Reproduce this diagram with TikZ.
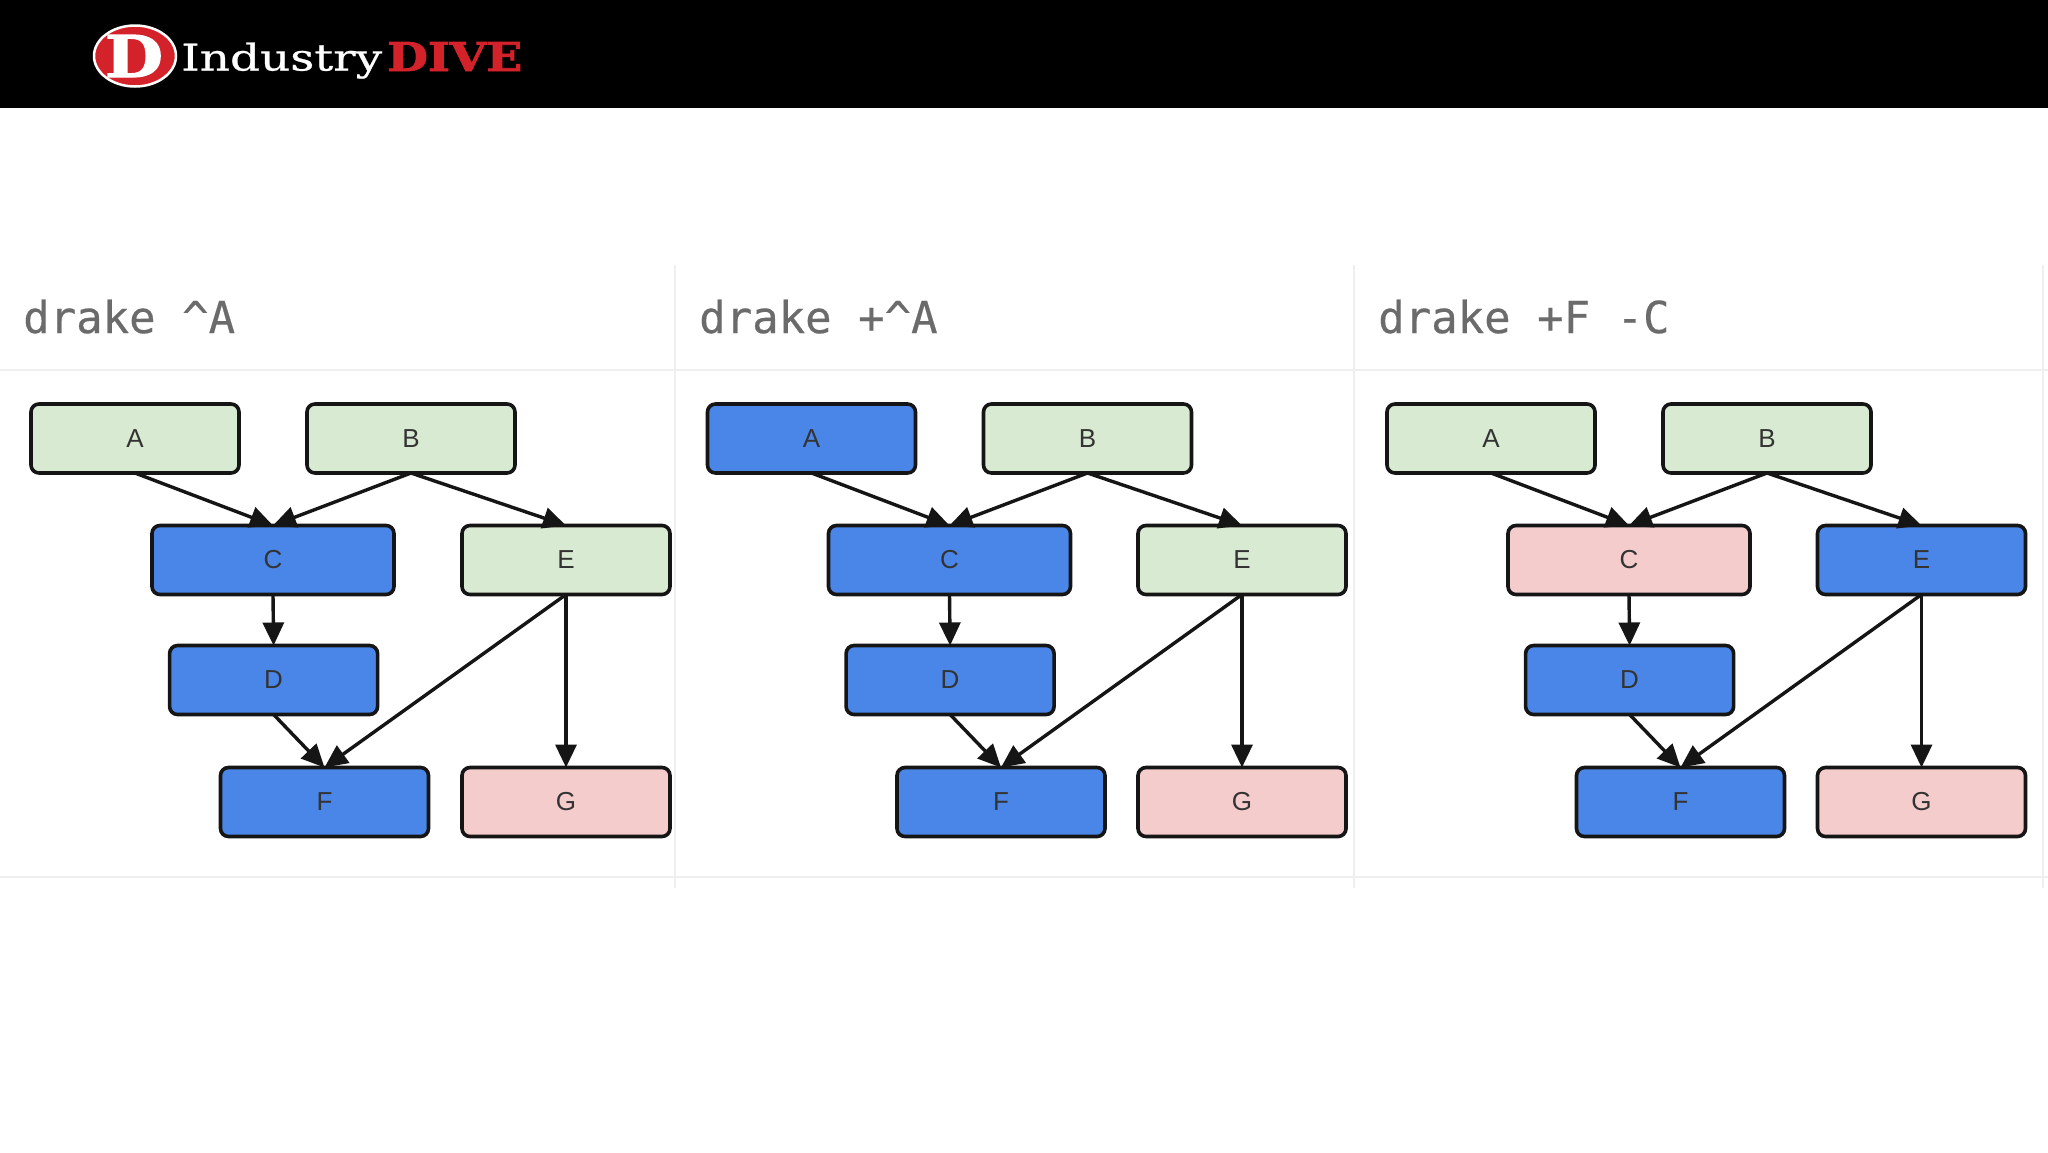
\documentclass[tikz,border=0pt]{standalone}
\usepackage{fontspec}
\setmainfont{Liberation Sans}
\newfontfamily\slabfont[FakeBold=0.6]{DejaVu Serif}
\newfontfamily\slabheavy[FakeBold=2]{DejaVu Serif Bold}
\newfontfamily\codefont[FakeBold=0.4]{DejaVu Sans Mono}
\usetikzlibrary{arrows.meta,shapes.geometric}
\definecolor{gfill}{HTML}{D9EAD3}
\definecolor{bfill}{HTML}{4A86E8}
\definecolor{pfill}{HTML}{F4CCCC}
\definecolor{rule}{HTML}{EFEFEF}
\definecolor{inkc}{HTML}{151515}
\definecolor{dive}{HTML}{D4222A}
\tikzset{
  box/.style={draw=inkc,line width=3.6pt,rounded corners=8pt,minimum height=69pt,inner sep=0pt,outer sep=0pt,
    font=\fontsize{26}{26}\selectfont,text=black!80},
  wide/.style={box,minimum width=208pt},
  wider/.style={box,minimum width=242pt},
  link/.style={draw=inkc,line width=3.4pt,-{Triangle[length=23pt,width=21pt]}},
  grid/.style={draw=rule,line width=2.4pt},
  title/.style={anchor=base west,inner sep=0pt,text=black!58,font=\codefont\fontsize{44}{44}\selectfont},
}
% prefix, shift of left group, shift of right group, colours A B C D E F G
\newcommand{\dagpanel}[9]{%
  \node[wide,fill=#4] (#1A) at (#2+135,438.5) {A};
  \node[wide,fill=#5] (#1B) at (#2+411,438.5) {B};
  \node[wider,fill=#6] (#1C) at (#2+273,560) {C};
  \node[wide,fill=#7] (#1D) at (#2+273.6,680) {D};
  \node[wide,fill=#8] (#1E) at (#3+566,560) {E};
  \node[wide,fill=#9] (#1F) at (#2+324.5,802) {F};
  \node[wide,fill=pfill] (#1G) at (#3+566,802) {G};
  \draw[link] (#1A.south) -- (#1C.north);
  \draw[link] (#1B.south) -- (#1C.north);
  \draw[link] (#1B.south) -- (#1E.north);
  \draw[link] (#1C.south) -- (#1D.north);
  \draw[link] (#1D.south) -- (#1F.north);
  \draw[link] (#1E.south) -- (#1F.north);
  \draw[link] (#1E.south) -- (#1G.north);
}
\begin{document}
\begin{tikzpicture}[x=1pt,y=-1pt]
\useasboundingbox (0,0) rectangle (2048,1152);
\fill[white] (0,0) rectangle (2048,1152);
\fill[black] (0,0) rectangle (2048,108);
% logo
\node[ellipse,draw=white,fill=dive,line width=2.5pt,minimum width=82pt,minimum height=61pt,inner sep=0pt] (logo) at (135,56) {};
\node[inner sep=0pt,text=white,anchor=center] (logoD) at (134,56) {\resizebox{58pt}{42pt}{\slabheavy D}};
\node[inner sep=0pt,text=white,anchor=base west] (ind) at (181,70.5) {\resizebox{201pt}{28pt}{\slabfont Industry}};
\node[inner sep=0pt,text=dive,anchor=base west] (dv) at (387,71) {\resizebox{135pt}{29pt}{\slabheavy DIVE}};
% table rules
\draw[grid] (0,370) -- (2048,370);
\draw[grid] (0,877) -- (2048,877);
\draw[grid] (675,265) -- (675,888);
\draw[grid] (1354,265) -- (1354,888);
\draw[grid] (2043,265) -- (2043,888);
% titles
\node[title] (t1) at (23,333) {drake \^{}A};
\node[title] (t2) at (699,333) {drake +\^{}A};
\node[title] (t3) at (1378,333) {drake +F -C};
\dagpanel{p}{0}{0}{gfill}{gfill}{bfill}{bfill}{gfill}{bfill}
\dagpanel{q}{676.5}{676}{bfill}{gfill}{bfill}{bfill}{gfill}{bfill}
\dagpanel{r}{1356}{1355.5}{gfill}{gfill}{pfill}{bfill}{bfill}{bfill}
\end{tikzpicture}
\end{document}
